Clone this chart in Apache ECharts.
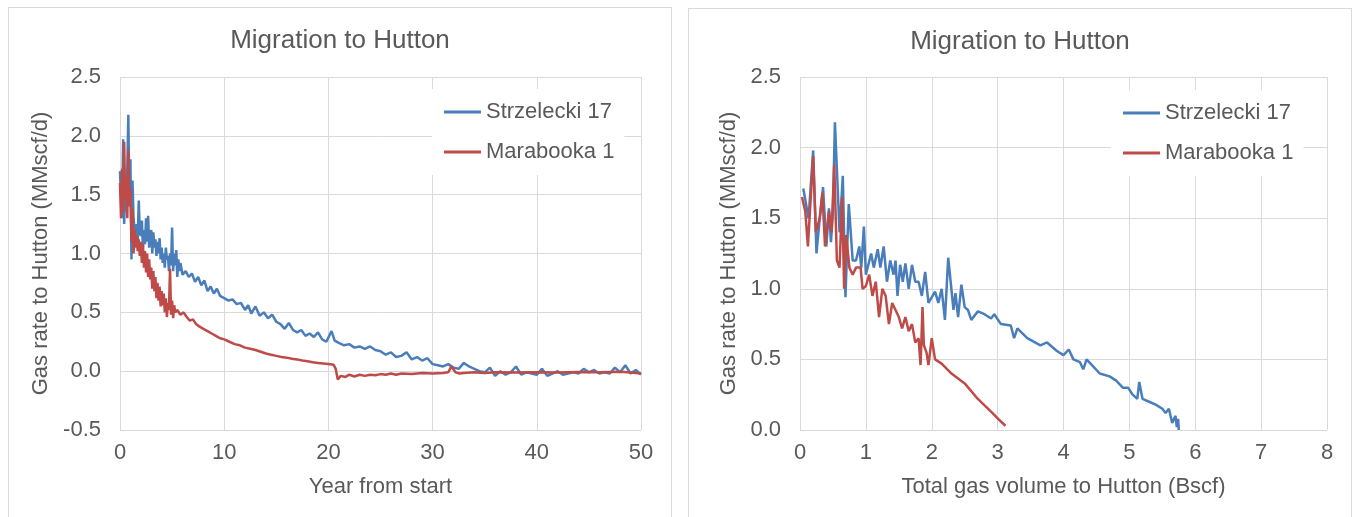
<!DOCTYPE html>
<html lang="en">
<head>
  <meta charset="UTF-8" />
  <title>Migration to Hutton</title>
  <script src="https://cdn.jsdelivr.net/npm/echarts@6/dist/echarts.min.js"></script>
  <style>
    html, body { margin: 0; padding: 0; background: #fff; overflow: hidden; }
    .panel { position: absolute; width: 662px; height: 530px; border: 1px solid #d9d9d9; background: #fff; }
    #left { left: 8px; top: 7px; }
    #right { left: 688px; top: 8px; }
  </style>
</head>
<body>
  <div id="left" class="panel"></div>
  <div id="right" class="panel"></div>
<script>
  // Strzelecki 17 - rate vs year
  var s17Year = [0.0,0.1,0.2,0.3,0.4,0.5,0.6,0.7,0.8,0.9,1.0,1.1,1.2,1.3,1.4,1.5,1.6,1.7,1.8,1.9,2.0,2.1,2.2,2.3,2.4,2.5,2.6,2.7,2.8,2.9,3.0,3.1,3.2,3.3,3.4,3.5,3.6,3.7,3.8,3.9,4.0,4.1,4.2,4.3,4.4,4.5,4.6,4.7,4.8,4.9,5.0,5.1,5.2,5.3,5.4,5.5,5.6,5.7,5.8,6.0,6.3,6.6,6.9,7.2,7.5,7.8,8.1,8.4,8.7,9.0,9.3,9.6,10.0,10.4,10.8,11.2,11.6,12.0,12.3,12.6,13.0,13.4,13.8,14.2,14.6,15.0,15.4,15.8,16.2,16.6,17.0,17.4,17.8,18.2,18.6,19.0,19.4,19.8,20.3,20.6,21.0,21.5,22.0,22.5,23.0,23.5,24.0,24.5,25.0,25.5,26.0,26.5,27.0,27.5,28.0,28.5,29.0,29.5,30.0,30.5,31.0,31.5,32.0,32.5,33.0,33.5,34.0,34.5,35.0,35.5,36.0,36.5,37.0,37.5,38.0,38.5,39.0,39.5,40.0,40.5,41.0,41.5,42.0,42.5,43.0,43.5,44.0,44.5,45.0,45.5,46.0,46.5,47.0,47.5,48.0,48.5,49.0,49.5,50.0];
  var s17Rate = [1.70,1.45,1.30,1.97,1.25,1.55,1.35,1.72,2.18,1.45,1.80,0.95,1.62,1.30,1.20,1.12,1.25,1.10,1.45,1.18,1.15,1.28,1.05,1.20,1.08,1.30,1.10,1.32,1.05,1.15,1.20,1.00,1.18,1.05,1.12,0.98,1.10,1.00,1.13,0.95,1.05,0.92,1.00,0.88,1.05,0.95,0.98,0.85,1.00,0.90,1.22,0.85,1.00,0.90,1.03,0.80,0.95,0.85,0.92,0.82,0.85,0.80,0.83,0.76,0.80,0.73,0.77,0.68,0.72,0.66,0.70,0.64,0.62,0.60,0.61,0.57,0.58,0.52,0.56,0.49,0.55,0.47,0.50,0.45,0.48,0.42,0.40,0.36,0.41,0.35,0.33,0.35,0.30,0.32,0.29,0.33,0.27,0.25,0.34,0.26,0.24,0.22,0.23,0.20,0.21,0.19,0.21,0.18,0.17,0.14,0.16,0.12,0.13,0.16,0.10,0.12,0.09,0.11,0.06,0.05,0.04,0.06,0.03,0.02,0.07,0.04,0.02,0.00,-0.01,0.03,-0.04,0.00,-0.03,-0.01,0.04,-0.03,-0.01,-0.02,-0.03,0.02,-0.04,-0.02,0.00,-0.03,-0.02,-0.01,-0.02,0.02,-0.01,0.01,-0.02,-0.01,-0.02,0.03,-0.01,0.05,-0.02,0.01,-0.03];

  // Marabooka 1 - rate vs year
  var m1Year = [0.0,0.1,0.2,0.3,0.4,0.5,0.6,0.7,0.8,0.9,1.0,1.1,1.2,1.3,1.4,1.5,1.6,1.7,1.8,1.9,2.0,2.1,2.2,2.3,2.4,2.5,2.6,2.7,2.8,2.9,3.0,3.1,3.2,3.3,3.4,3.5,3.6,3.7,3.8,3.9,4.0,4.1,4.2,4.3,4.4,4.5,4.6,4.7,4.8,4.9,5.0,5.1,5.2,5.3,5.5,5.8,6.1,6.4,6.7,7.0,7.3,7.6,8.0,8.4,8.8,9.2,9.6,10.0,10.5,11.0,11.5,12.0,12.5,13.0,13.5,14.0,14.5,15.0,15.5,16.0,16.5,17.0,17.5,18.0,18.5,19.0,19.5,20.0,20.5,20.7,20.9,21.2,21.6,22.0,22.5,23.0,23.5,24.0,24.5,25.0,25.5,26.0,26.5,27.0,28.0,29.0,30.0,31.0,31.5,31.8,32.2,32.6,33.0,34.0,35.0,36.0,38.0,40.0,42.0,44.0,46.0,48.0,49.0,50.0];
  var m1Rate = [1.60,1.30,1.72,1.35,1.95,1.45,1.65,1.30,1.88,1.40,1.55,1.10,1.38,1.00,1.20,1.05,1.15,1.02,1.12,0.98,1.10,0.92,1.08,0.88,1.02,0.84,1.00,0.80,0.95,0.78,0.88,0.70,0.85,0.68,0.80,0.62,0.75,0.60,0.72,0.55,0.68,0.56,0.66,0.50,0.62,0.46,0.58,0.52,0.87,0.48,0.60,0.45,0.56,0.50,0.52,0.48,0.50,0.46,0.43,0.44,0.40,0.38,0.36,0.34,0.32,0.30,0.28,0.27,0.25,0.23,0.22,0.20,0.19,0.18,0.165,0.15,0.14,0.13,0.12,0.115,0.105,0.10,0.09,0.085,0.075,0.07,0.065,0.06,0.055,0.02,-0.07,-0.04,-0.05,-0.03,-0.045,-0.03,-0.04,-0.03,-0.035,-0.025,-0.03,-0.02,-0.03,-0.02,-0.025,-0.015,-0.02,-0.015,-0.01,0.04,-0.01,-0.02,-0.015,-0.01,-0.015,-0.01,-0.012,-0.01,-0.012,-0.008,-0.01,-0.005,-0.012,-0.02];

  // Strzelecki 17 - rate vs cumulative volume
  var s17Vol = [0.05,0.13,0.20,0.25,0.30,0.35,0.40,0.44,0.47,0.50,0.53,0.60,0.65,0.69,0.74,0.80,0.85,0.90,0.93,0.97,1.00,1.08,1.12,1.18,1.22,1.27,1.32,1.37,1.42,1.45,1.48,1.52,1.56,1.60,1.65,1.70,1.75,1.80,1.85,1.90,1.95,2.05,2.10,2.15,2.20,2.25,2.33,2.36,2.40,2.45,2.50,2.55,2.60,2.70,2.80,2.90,2.95,3.05,3.20,3.25,3.30,3.45,3.65,3.75,3.90,4.00,4.08,4.15,4.25,4.30,4.35,4.45,4.55,4.70,4.80,4.90,4.98,5.05,5.12,5.15,5.20,5.30,5.40,5.50,5.55,5.60,5.65,5.70,5.72,5.74,5.75];
  var s17VolRate = [1.71,1.50,1.98,1.25,1.50,1.72,1.30,1.57,1.33,1.55,2.18,1.40,1.80,0.94,1.60,1.20,1.20,1.30,1.15,1.44,1.10,1.25,1.15,1.28,1.15,1.30,1.05,1.20,1.10,1.20,0.95,1.17,1.05,1.18,1.00,1.17,1.05,1.05,0.95,1.12,0.90,0.98,0.90,1.00,0.78,1.22,0.85,0.97,0.80,1.03,0.87,0.85,0.78,0.84,0.82,0.79,0.82,0.75,0.74,0.65,0.72,0.65,0.60,0.62,0.56,0.53,0.57,0.50,0.48,0.43,0.50,0.45,0.40,0.38,0.35,0.30,0.30,0.25,0.22,0.34,0.22,0.20,0.18,0.15,0.12,0.15,0.05,0.10,0.02,0.08,0.00];

  // Marabooka 1 - rate vs cumulative volume
  var m1Vol = [0.03,0.08,0.12,0.20,0.24,0.30,0.34,0.38,0.44,0.48,0.52,0.56,0.60,0.64,0.67,0.70,0.75,0.80,0.85,0.92,0.95,1.00,1.05,1.10,1.15,1.20,1.25,1.30,1.35,1.40,1.45,1.50,1.55,1.60,1.65,1.70,1.75,1.80,1.83,1.86,1.88,1.92,1.95,2.00,2.05,2.15,2.30,2.50,2.70,2.90,3.05,3.12];
  var m1VolRate = [1.65,1.55,1.30,1.94,1.40,1.50,1.68,1.30,1.55,1.40,1.88,1.20,1.15,1.65,1.00,1.38,1.15,1.10,1.15,1.15,1.00,1.02,1.10,0.95,1.05,0.80,1.00,0.95,0.75,0.90,0.85,0.80,0.72,0.80,0.70,0.75,0.62,0.65,0.46,0.87,0.60,0.55,0.46,0.65,0.50,0.47,0.40,0.33,0.22,0.13,0.06,0.03];

  var textColor = "#595959";
  var gridColor = "#d9d9d9";
  var fontName = "Liberation Sans";

  function pairs(xs, ys) {
    var out = [];
    for (var i = 0; i < xs.length; i++) out.push([xs[i], ys[i]]);
    return out;
  }

  function makeOption(cfg) {
    return {
      animation: false,
      textStyle: { fontFamily: fontName },
      title: {
        text: "Migration to Hutton",
        left: "center",
        top: 15,
        textStyle: { color: textColor, fontSize: 26, fontWeight: "normal", fontFamily: fontName }
      },
      grid: { left: 111, top: cfg.top, width: cfg.width, height: 353 },
      legend: {
        orient: "vertical",
        left: cfg.legendLeft,
        top: 81,
        padding: [12, 10, 12, 12],
        backgroundColor: "#fff",
        itemWidth: 37,
        itemHeight: 3,
        itemGap: 18,
        icon: "rect",
        textStyle: { color: textColor, fontSize: 22, fontFamily: fontName },
        data: ["Strzelecki 17", "Marabooka 1"]
      },
      xAxis: {
        type: "value",
        min: 0,
        max: cfg.xMax,
        interval: cfg.xInterval,
        name: cfg.xName,
        nameLocation: "middle",
        nameGap: 46,
        nameTextStyle: { color: textColor, fontSize: 22 },
        axisLine: { show: false },
        axisTick: { show: false },
        axisLabel: { color: textColor, fontSize: 22, margin: 12 },
        splitLine: { show: true, lineStyle: { color: gridColor, width: 1 } }
      },
      yAxis: {
        type: "value",
        min: cfg.yMin,
        max: 2.5,
        interval: 0.5,
        name: "Gas rate to Hutton (MMscf/d)",
        nameLocation: "middle",
        nameGap: 59,
        nameTextStyle: { color: textColor, fontSize: 22 },
        axisLine: { show: false },
        axisTick: { show: false },
        axisLabel: {
          color: textColor,
          fontSize: 22,
          margin: 19,
          formatter: function (v) { return v.toFixed(1); }
        },
        splitLine: { show: true, lineStyle: { color: gridColor, width: 1 } }
      },
      series: [
        {
          name: "Strzelecki 17",
          type: "line",
          showSymbol: false,
          data: cfg.blue,
          itemStyle: { color: "#4a7ebb" },
          lineStyle: { color: "#4a7ebb", width: 2.5 }
        },
        {
          name: "Marabooka 1",
          type: "line",
          showSymbol: false,
          data: cfg.red,
          itemStyle: { color: "#be4b48" },
          lineStyle: { color: "#be4b48", width: 2.5 }
        }
      ]
    };
  }

  var leftChart = echarts.init(document.getElementById("left"));
  var rightChart = echarts.init(document.getElementById("right"));

  leftChart.setOption(makeOption({
    top: 69, width: 521, legendLeft: 423,
    xMax: 50, xInterval: 10, yMin: -0.5,
    xName: "Year from start",
    blue: pairs(s17Year, s17Rate),
    red: pairs(m1Year, m1Rate)
  }));

  rightChart.setOption(makeOption({
    top: 68, width: 527, legendLeft: 422,
    xMax: 8, xInterval: 1, yMin: 0,
    xName: "Total gas volume to Hutton (Bscf)",
    blue: pairs(s17Vol, s17VolRate),
    red: pairs(m1Vol, m1VolRate)
  }));
</script>
</body>
</html>
